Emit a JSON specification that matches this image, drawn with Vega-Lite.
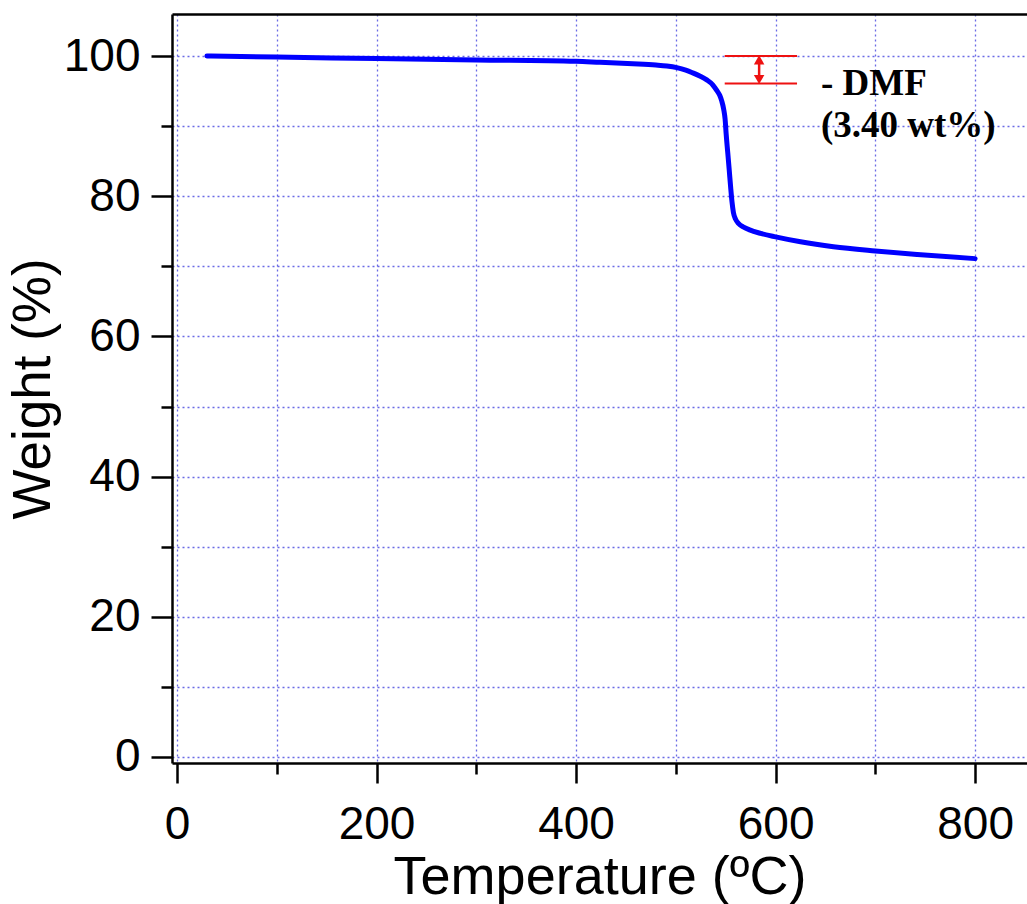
{
  "$schema": "https://vega.github.io/schema/vega-lite/v6.json",
  "autosize": "none",
  "width": 855,
  "height": 749,
  "padding": {"left": 172, "top": 14, "right": 0, "bottom": 141},
  "background": "white",
  "config": {
    "view": {"stroke": null},
    "axis": {
      "labelFont": "Liberation Sans",
      "titleFont": "Liberation Sans",
      "labelColor": "black",
      "titleColor": "black",
      "tickColor": "black",
      "domainColor": "black",
      "gridColor": "#5050e0",
      "gridDash": [2, 3],
      "gridWidth": 1.3,
      "gridOpacity": 0.85
    }
  },
  "datasets": {
    "tga": [
      {"t": 30, "w": 100.0},
      {"t": 100, "w": 99.85},
      {"t": 200, "w": 99.65},
      {"t": 300, "w": 99.45},
      {"t": 400, "w": 99.25},
      {"t": 424, "w": 99.1},
      {"t": 457, "w": 98.9},
      {"t": 480, "w": 98.72},
      {"t": 491, "w": 98.58},
      {"t": 501, "w": 98.35},
      {"t": 510, "w": 98.0},
      {"t": 517, "w": 97.6},
      {"t": 524, "w": 97.15},
      {"t": 531, "w": 96.6},
      {"t": 537, "w": 95.9},
      {"t": 541, "w": 95.1},
      {"t": 544, "w": 94.4},
      {"t": 546, "w": 93.6},
      {"t": 548, "w": 92.4},
      {"t": 549.4, "w": 91.0},
      {"t": 550.5, "w": 88.8},
      {"t": 552, "w": 86.3},
      {"t": 553.5, "w": 83.8},
      {"t": 555, "w": 81.2},
      {"t": 556.3, "w": 79.2},
      {"t": 557.7, "w": 77.7},
      {"t": 560, "w": 76.7},
      {"t": 563, "w": 76.1},
      {"t": 568, "w": 75.6},
      {"t": 574, "w": 75.2},
      {"t": 585, "w": 74.7},
      {"t": 600, "w": 74.2},
      {"t": 625, "w": 73.5},
      {"t": 658, "w": 72.8},
      {"t": 700, "w": 72.2},
      {"t": 742, "w": 71.7},
      {"t": 800, "w": 71.1}
    ],
    "hlines": [
      {"t1": 549, "t2": 621.5, "w": 100.0},
      {"t1": 549, "t2": 621.5, "w": 96.1}
    ],
    "arrow": [
      {"t": 583.5, "w1": 99.4, "w2": 96.7}
    ],
    "heads": [
      {"t": 583.5, "w": 99.45, "dir": "up"},
      {"t": 583.5, "w": 96.65, "dir": "down"}
    ],
    "labels": [
      {"t": 645.5, "w": 94.4, "txt": "- DMF"},
      {"t": 645.5, "w": 88.4, "txt": "(3.40 wt%)"}
    ]
  },
  "resolve": {"axis": {"x": "independent", "y": "independent"}},
  "layer": [
    {
      "data": {"name": "tga"},
      "mark": {"type": "line", "color": "#0000ff", "strokeWidth": 5, "strokeCap": "round", "strokeJoin": "round", "interpolate": "monotone"},
      "encoding": {
        "x": {
          "field": "t", "type": "quantitative",
          "scale": {"domain": [-5, 852], "nice": false, "zero": false},
          "axis": {
            "orient": "bottom",
            "values": [0, 200, 400, 600, 800],
            "tickSize": 20, "tickWidth": 2.5,
            "domainWidth": 2.5,
            "labelFontSize": 46, "labelPadding": 19, "labelFlush": false, "labelOverlap": false,
            "title": "Temperature (ºC)", "titleFontSize": 54, "titleFontWeight": "normal", "titlePadding": 3,
            "grid": true
          }
        },
        "y": {
          "field": "w", "type": "quantitative",
          "scale": {"domain": [-0.86, 106], "nice": false, "zero": false},
          "axis": {
            "orient": "left",
            "values": [0, 20, 40, 60, 80, 100],
            "tickSize": 21, "tickWidth": 2.5,
            "domainWidth": 2.5,
            "labelFontSize": 46, "labelPadding": 11, "labelFlush": false, "labelOverlap": false,
            "title": "Weight (%)", "titleFontSize": 53, "titleFontWeight": "normal", "titlePadding": 3,
            "grid": true
          }
        }
      }
    },
    {
      "data": {"name": "hlines"},
      "mark": {"type": "rule", "color": "#ee1111", "strokeWidth": 2},
      "encoding": {
        "x": {
          "field": "t1", "type": "quantitative",
          "axis": {
            "orient": "bottom", "values": [100, 300, 500, 700],
            "tickSize": 11, "tickWidth": 2.5, "domain": false, "labels": false, "title": null, "grid": true
          }
        },
        "x2": {"field": "t2"},
        "y": {
          "field": "w", "type": "quantitative",
          "axis": {
            "orient": "left", "values": [10, 30, 50, 70, 90],
            "tickSize": 11, "tickWidth": 2.5, "domain": false, "labels": false, "title": null, "grid": true
          }
        }
      }
    },
    {
      "data": {"name": "arrow"},
      "mark": {"type": "rule", "color": "#ee1111", "strokeWidth": 2.5},
      "encoding": {
        "x": {
          "field": "t", "type": "quantitative",
          "axis": {
            "orient": "top", "domain": true, "domainWidth": 2.5, "ticks": false, "labels": false, "title": null, "grid": false
          }
        },
        "y": {"field": "w1", "type": "quantitative", "axis": null},
        "y2": {"field": "w2"}
      }
    },
    {
      "data": {"name": "heads"},
      "mark": {"type": "point", "filled": true, "color": "#ee1111", "size": 110, "opacity": 1},
      "encoding": {
        "x": {"field": "t", "type": "quantitative", "axis": null},
        "y": {"field": "w", "type": "quantitative", "axis": null},
        "shape": {
          "field": "dir", "type": "nominal",
          "scale": {"domain": ["up", "down"], "range": ["triangle-up", "triangle-down"]},
          "legend": null
        }
      }
    },
    {
      "data": {"name": "labels"},
      "mark": {"type": "text", "font": "Liberation Serif", "fontWeight": "bold", "fontSize": 37, "align": "left", "baseline": "alphabetic", "color": "black"},
      "encoding": {
        "x": {"field": "t", "type": "quantitative", "axis": null},
        "y": {"field": "w", "type": "quantitative", "axis": null},
        "text": {"field": "txt"}
      }
    }
  ]
}
